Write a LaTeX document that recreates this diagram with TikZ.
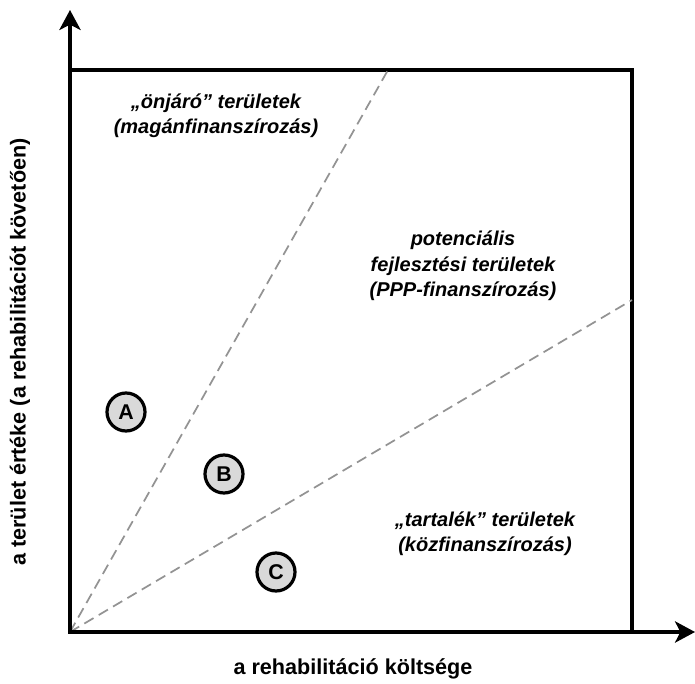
\documentclass[tikz,border=0pt]{standalone}
\usepackage{fontspec}
\setmainfont{Liberation Sans}
\usetikzlibrary{arrows.meta, positioning}

\begin{document}
\begin{tikzpicture}[
        x=0.75pt, y=-0.75pt,
        axis/.style={line width=2.3pt, -{Stealth[length=15pt, width=16pt, inset=4pt]}},
        frame/.style={line width=2.3pt},
        border/.style={gray!85, dash pattern=on 8pt off 4.5pt, line width=1.3pt},
        site/.style={circle, draw=black, line width=2.4pt, fill=gray!30, minimum size=28.5pt, inner sep=0pt, font=\fontsize{16}{19}\selectfont\bfseries},
        zone/.style={align=center, font=\fontsize{15}{19}\selectfont\bfseries\itshape, inner sep=0pt},
        axislabel/.style={font=\fontsize{16.2}{19}\selectfont\bfseries}
    ]
        \useasboundingbox (0,0) rectangle (695,684);

        % Corner points
        \coordinate (origin) at (70,632);
        \coordinate (ytip) at (70,10);
        \coordinate (xtip) at (695,632);
        \coordinate (topright) at (632,70);
        \coordinate (steep) at (388,70);
        \coordinate (flat) at (632,300);

        % Frame and dividing lines
        \draw [frame] (origin) rectangle (topright);
        \draw [border] (origin) -- (steep);
        \draw [border] (origin) -- (flat);

        % Axes
        \draw [axis] (origin) -- (ytip);
        \draw [axis] (origin) -- (xtip);

        % Zones
        \node (selfzone) [zone] at (216,116) {„önjáró” területek\\(magánfinanszírozás)};
        \node (pppzone) [zone] at (463,266) {potenciális\\fejlesztési területek\\(PPP-finanszírozás)};
        \node (reservezone) [zone] at (485,534) {„tartalék” területek\\(közfinanszírozás)};

        % Sites
        \node (A) [site] at (126,412) {A};
        \node (B) [site] at (224,474) {B};
        \node (C) [site] at (276,572) {C};

        % Axis labels
        \node (xlabel) [axislabel] at (353,669) {a rehabilitáció költsége};
        \node (ylabel) [axislabel, rotate=90] at (20,352) {a terület értéke (a rehabilitációt követően)};
    \end{tikzpicture}
\end{document}
